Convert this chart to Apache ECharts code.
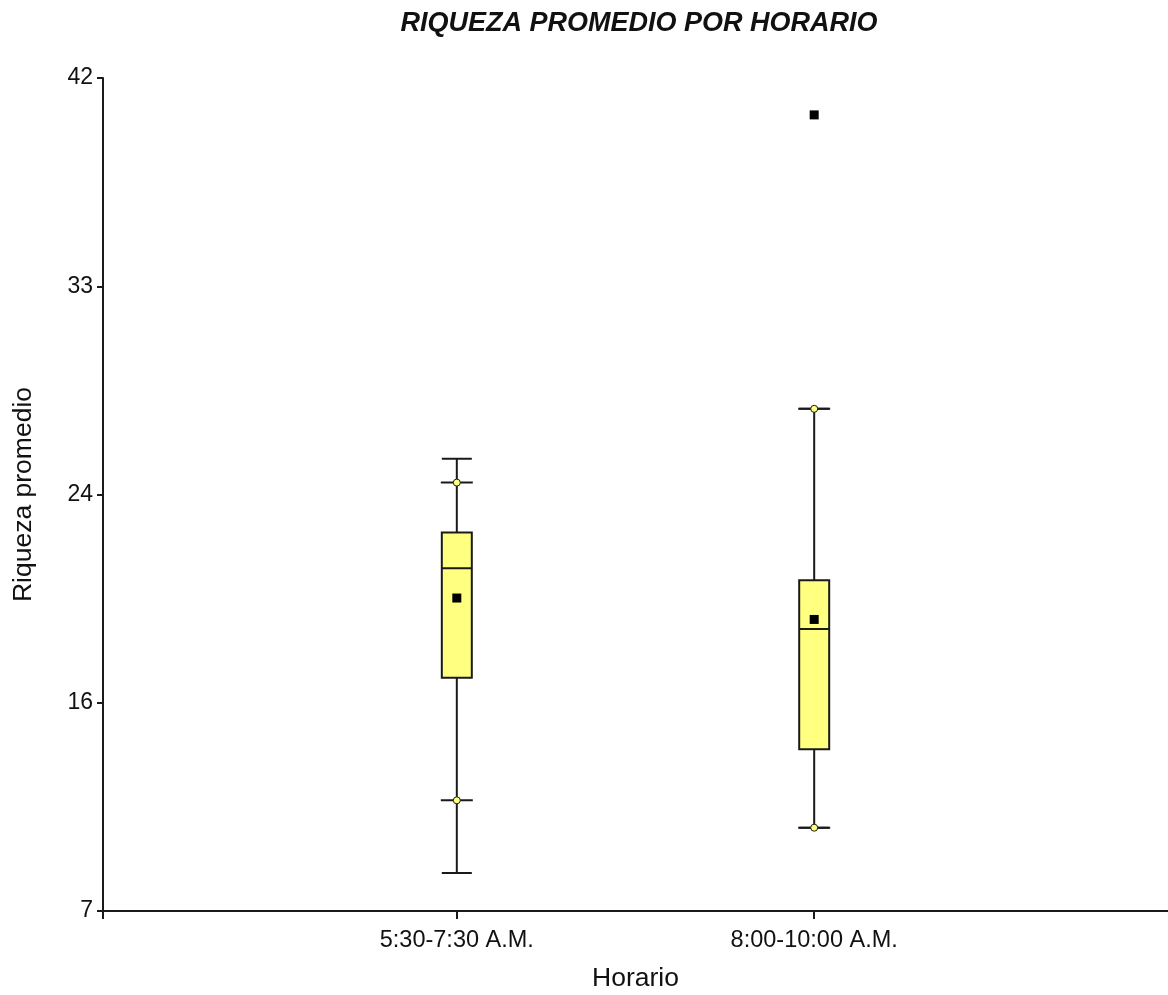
<!DOCTYPE html>
<html>
<head>
<meta charset="utf-8">
<script src="https://cdn.jsdelivr.net/npm/echarts@6/dist/echarts.min.js"></script>
<style>html,body{margin:0;padding:0;background:#fff}#c{width:1168px;height:995px}</style>
</head>
<body>
<div id="c"></div>
<script>
const categories = ['5:30-7:30 A.M.', '8:00-10:00 A.M.'];
const whiskerLow = [8.6, 10.5];
const q1 = [16.8, 13.8];
const median = [21.4, 18.85];
const q3 = [22.9, 20.9];
const whiskerHigh = [26.0, 28.1];
const means = [20.15, 19.25];
const p5 = [11.65, 10.5];
const p95 = [25.0, 28.1];
const outlierCat = [1];
const outlierVal = [40.45];
const yTickValues = [7, 15.75, 24.5, 33.25, 42];
const yTickLabels = ['7', '16', '24', '33', '42'];
const xMin = 0.01;
const xMax = 2.99;

const FONT = 'Liberation Sans';
const LINE = '#1a1a1a';
const FILL = '#ffff80';

const boxData = categories.map((c, i) => [i + 1, whiskerLow[i], q1[i], median[i], q3[i], whiskerHigh[i]]);
const meanData = categories.map((c, i) => [i + 1, means[i]]);
const pctData = [];
categories.forEach((c, i) => { pctData.push([i + 1, p5[i]]); pctData.push([i + 1, p95[i]]); });
const outData = outlierCat.map((c, i) => [c + 1, outlierVal[i]]);
const xTickValues = [xMin].concat(categories.map((c, i) => i + 1));

const chart = echarts.init(document.getElementById('c'), null, {renderer: 'canvas'});
chart.setOption({
  backgroundColor: '#fff',
  animation: false,
  title: {
    text: 'RIQUEZA PROMEDIO POR HORARIO',
    left: 634, top: 5, textAlign: 'center',
    textStyle: {fontFamily: FONT, fontSize: 27, fontWeight: 'bold', fontStyle: 'italic', color: '#111'}
  },
  grid: {left: 103, right: 0, top: 78, bottom: 84, containLabel: false, outerBoundsMode: 'none'},
  xAxis: {
    type: 'value', min: xMin, max: xMax,
    name: 'Horario', nameLocation: 'middle', nameGap: 54,
    nameTextStyle: {fontFamily: FONT, fontSize: 26.5, color: '#111'},
    axisLine: {show: true, lineStyle: {color: LINE, width: 2}},
    axisTick: {show: true, inside: false, length: 8, customValues: xTickValues, lineStyle: {color: LINE, width: 2}},
    axisLabel: {
      show: true, margin: 18, fontFamily: FONT, fontSize: 23.5, color: '#111',
      customValues: categories.map((c, i) => i + 1),
      formatter: v => categories[Math.round(v) - 1] || ''
    },
    splitLine: {show: false}
  },
  yAxis: {
    type: 'value', min: 7, max: 42,
    name: 'Riqueza promedio', nameLocation: 'middle', nameGap: 66, nameRotate: 90,
    nameTextStyle: {fontFamily: FONT, fontSize: 26.5, color: '#111'},
    axisLine: {show: true, lineStyle: {color: LINE, width: 2}},
    axisTick: {show: true, length: 6, customValues: yTickValues, lineStyle: {color: LINE, width: 2}},
    axisLabel: {
      show: true, margin: 10, fontFamily: FONT, fontSize: 23, color: '#111',
      customValues: yTickValues,
      formatter: v => {
        const i = yTickValues.findIndex(t => Math.abs(t - v) < 1e-6);
        return i >= 0 ? yTickLabels[i] : '';
      }
    },
    splitLine: {show: false}
  },
  series: [
    {
      type: 'boxplot',
      data: boxData,
      boxWidth: [30, 30],
      itemStyle: {color: FILL, borderColor: LINE, borderWidth: 2},
      emphasis: {disabled: true},
      z: 2
    },
    {
      type: 'custom',
      data: pctData,
      renderItem: (params, api) => {
        const p = api.coord([api.value(0), api.value(1)]);
        return {type: 'line', shape: {x1: p[0] - 16, y1: p[1], x2: p[0] + 16, y2: p[1]},
                style: {stroke: LINE, lineWidth: 2}};
      },
      z: 3
    },
    {
      type: 'scatter',
      data: pctData,
      symbol: 'circle', symbolSize: 7,
      itemStyle: {color: FILL, borderColor: LINE, borderWidth: 1, opacity: 1},
      z: 4
    },
    {
      type: 'scatter',
      data: meanData.concat(outData),
      symbol: 'rect', symbolSize: 9,
      itemStyle: {color: '#000', opacity: 1},
      z: 5
    }
  ]
});
</script>
</body>
</html>
